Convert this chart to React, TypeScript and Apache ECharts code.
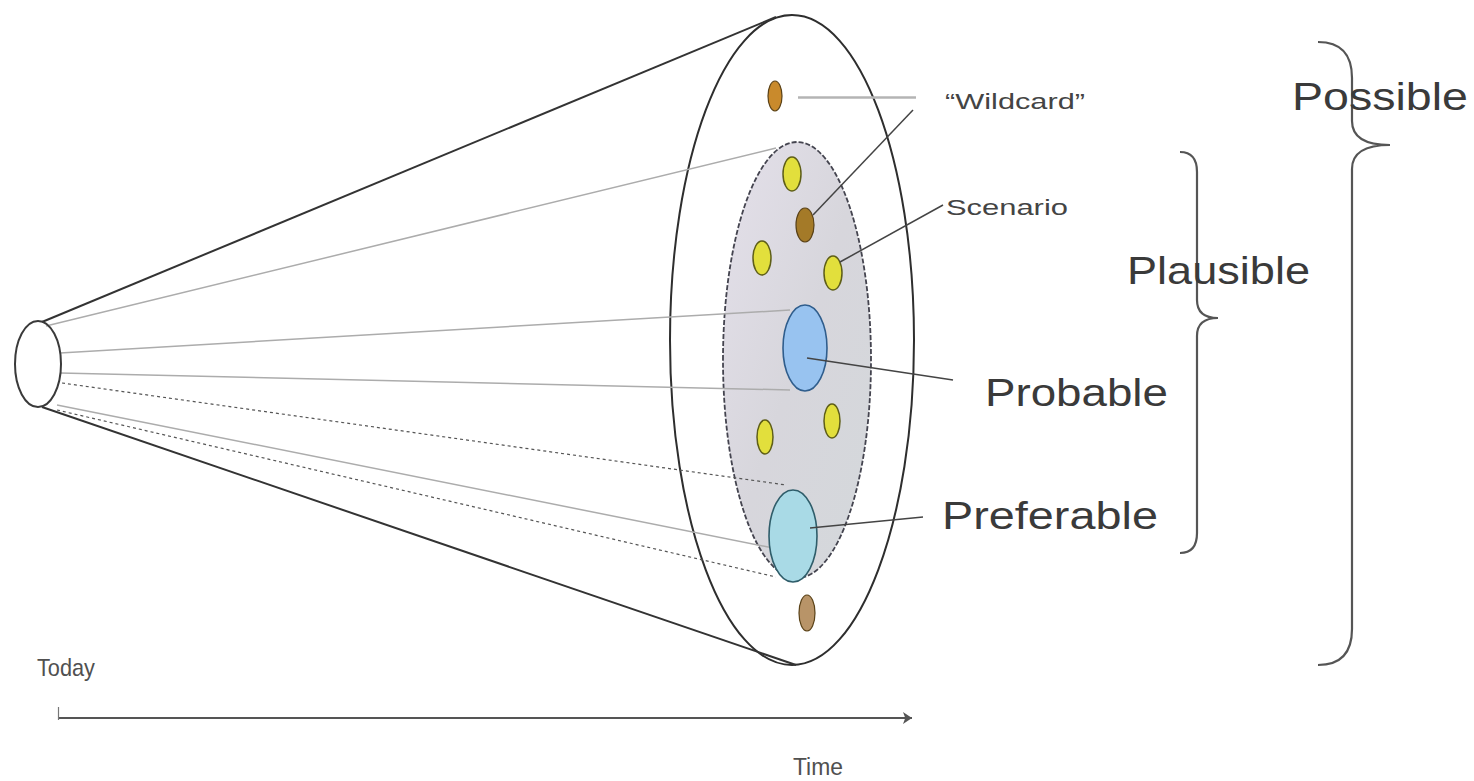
import React, { useEffect, useRef } from 'react';
import * as echarts from 'echarts';

const W = 1474;
const H = 781;

// Ellipses in diagram units: [cx, cy, rx, ry]
const todayEllipse = [[38, 364, 23, 43]];
const possibleEllipse = [[792, 340, 122, 325]];
const plausibleEllipse = [[797, 360, 74, 218]];
const probableEllipse = [[805, 348, 22, 43]];
const preferableEllipse = [[793, 536, 24, 46]];
const scenarioDots = [
  [792, 174, 9, 17],
  [762, 258, 9, 17],
  [833, 273, 9, 17],
  [765, 437, 8, 17],
  [832, 421, 8, 17],
];
const wildcardDots = [
  [775, 96, 7, 15],
  [805, 225, 9, 17],
  [807, 613, 8, 18],
];
const wildcardFills = ['#c98a2c', '#a47a28', '#b89468'];

// Line segments: [[x1, y1], [x2, y2]]
const coneEdges = [
  [[42, 322], [776, 17]],
  [[42, 407], [796, 665]],
];
const solidRays = [
  [[46, 326], [776, 148]],
  [[60, 353], [790, 310]],
  [[60, 373], [790, 390]],
  [[57, 405], [773, 548]],
];
const dashedRays = [
  [[62, 383], [786, 485]],
  [[57, 410], [776, 577]],
];
const wildcardGuide = [[[798, 97], [916, 97]]];
const leaderLines = [
  [[913, 110], [813, 215]],
  [[943, 205], [840, 262]],
  [[807, 358], [953, 380]],
  [[810, 528], [923, 517]],
];
const timeAxis = [[[58, 718], [912, 718]]];
const timeTick = [[[58, 707], [58, 720]]];

// Braces: [endX, spineX, tipX, topY, tipY, bottomY, endCurve, tipCurve]
const braces = [
  [1180, 1197, 1218, 152, 318, 553, 20, 18],
  [1318, 1352, 1390, 42, 145, 665, 36, 24],
];

// Labels
const labelTexts = ['\u201cWildcard\u201d', 'Scenario', 'Probable', 'Preferable', 'Plausible', 'Possible', 'Today', 'Time'];

// Label layout: [x, yCenter, width, fontSize, color]
const labelLayout: [number, number, number, number, string][] = [
  [945, 102, 140, 22, '#444444'],
  [946, 208, 122, 22, '#444444'],
  [985, 393, 183, 38, '#3a3a3a'],
  [942, 516, 216, 38, '#3a3a3a'],
  [1127, 271, 183, 38, '#3a3a3a'],
  [1292, 97, 176, 38, '#3a3a3a'],
  [37, 668, 58, 24, '#505050'],
  [793, 767, 50, 24, '#505050'],
];

const FONT = "'Liberation Sans', Arial, sans-serif";

function ellipseSeries(name: string, data: number[][], style: any, z: number, fills?: string[]) {
  return {
    type: 'custom',
    name,
    coordinateSystem: 'cartesian2d',
    z,
    silent: true,
    data,
    renderItem: (params: any, api: any) => {
      const c = api.coord([api.value(0), api.value(1)]);
      const s = api.size([api.value(2), api.value(3)]);
      const st = { ...style };
      if (fills) st.fill = fills[params.dataIndex];
      return {
        type: 'ellipse',
        shape: { cx: c[0], cy: c[1], rx: s[0], ry: s[1] },
        style: st,
      };
    },
  };
}

function linesSeries(name: string, segs: number[][][], lineStyle: any, z: number, extra: any = {}) {
  return {
    type: 'lines',
    name,
    coordinateSystem: 'cartesian2d',
    z,
    silent: true,
    data: segs.map((s) => ({ coords: s })),
    lineStyle: { opacity: 1, ...lineStyle },
    symbol: 'none',
    ...extra,
  };
}

export default function App() {
  const ref = useRef<HTMLDivElement>(null);

  useEffect(() => {
    if (!ref.current) return;
    const chart = echarts.init(ref.current, null, { renderer: 'svg' });

    const canvas = document.createElement('canvas');
    const ctx = canvas.getContext('2d')!;

    const graphics = labelTexts.map((t, i) => {
      const [x, y, w, fs, color] = labelLayout[i];
      ctx.font = `${fs}px ${FONT}`;
      const mw = ctx.measureText(t).width || w;
      return {
        type: 'text',
        x,
        y,
        scaleX: w / mw,
        z: 100,
        silent: true,
        style: {
          text: t,
          fontSize: fs,
          fontFamily: FONT,
          fill: color,
          textAlign: 'left',
          textVerticalAlign: 'middle',
        },
      };
    });

    const option: any = {
      animation: false,
      backgroundColor: '#ffffff',
      grid: { left: 0, right: 0, top: 0, bottom: 0, containLabel: false },
      xAxis: { type: 'value', min: 0, max: W, show: false },
      yAxis: { type: 'value', min: 0, max: H, inverse: true, show: false },
      series: [
        ellipseSeries('Possible', possibleEllipse, { fill: '#ffffff', stroke: '#2e2e2e', lineWidth: 2 }, 1),
        ellipseSeries(
          'Plausible',
          plausibleEllipse,
          {
            fill: new echarts.graphic.LinearGradient(0, 0, 1, 1, [
              { offset: 0, color: '#e4e0ea' },
              { offset: 0.5, color: '#d7d6dc' },
              { offset: 1, color: '#d4d8db' },
            ]),
            stroke: '#44444f',
            lineWidth: 1.8,
            lineDash: [5, 2],
          },
          2
        ),
        linesSeries('cone', coneEdges, { color: '#333333', width: 2 }, 3),
        linesSeries('rays', solidRays, { color: '#acacac', width: 1.5 }, 3),
        linesSeries('dashed rays', dashedRays, { color: '#555555', width: 1.2, type: [3, 3] }, 3),
        ellipseSeries('Today', todayEllipse, { fill: 'none', stroke: '#3a3a3a', lineWidth: 2 }, 4),
        ellipseSeries('Scenario', scenarioDots, { fill: '#e2df3c', stroke: '#5e5e18', lineWidth: 1.5 }, 5),
        ellipseSeries('Wildcard', wildcardDots, { stroke: '#5a4218', lineWidth: 1.2 }, 5, wildcardFills),
        ellipseSeries('Probable', probableEllipse, { fill: '#98c3f0', stroke: '#2f5d8c', lineWidth: 1.6 }, 5),
        ellipseSeries('Preferable', preferableEllipse, { fill: '#a9dae6', stroke: '#2f5d6a', lineWidth: 1.6 }, 5),
        linesSeries('wildcard guide', wildcardGuide, { color: '#b4b4b4', width: 2.5 }, 6),
        linesSeries('leaders', leaderLines, { color: '#444444', width: 1.5 }, 6),
        linesSeries('time axis', timeAxis, { color: '#555555', width: 2 }, 6, {
          symbol: ['none', 'arrow'],
          symbolSize: 9,
        }),
        linesSeries('time tick', timeTick, { color: '#777777', width: 1.2 }, 6),
        {
          type: 'custom',
          name: 'braces',
          coordinateSystem: 'cartesian2d',
          z: 7,
          silent: true,
          data: braces,
          renderItem: (params: any, api: any) => {
            const v = (i: number) => api.value(i);
            const ex = v(0), sx = v(1), tx = v(2), ty = v(3), tipY = v(4), by = v(5), re = v(6), rt = v(7);
            const p = (x: number, y: number) => api.coord([x, y]).join(' ');
            const d =
              `M ${p(ex, ty)} Q ${p(sx, ty)} ${p(sx, ty + re)} L ${p(sx, tipY - rt)} ` +
              `Q ${p(sx, tipY)} ${p(tx, tipY)} Q ${p(sx, tipY)} ${p(sx, tipY + rt)} ` +
              `L ${p(sx, by - re)} Q ${p(sx, by)} ${p(ex, by)}`;
            return {
              type: 'path',
              shape: { pathData: d },
              style: { fill: 'none', stroke: '#555555', lineWidth: 2.2 },
            };
          },
        },
      ],
      graphic: graphics,
    };

    chart.setOption(option);
    return () => chart.dispose();
  }, []);

  return (
    <div
      ref={ref}
      style={{ position: 'fixed', left: 0, top: 0, width: W, height: H, background: '#fff' }}
    />
  );
}
